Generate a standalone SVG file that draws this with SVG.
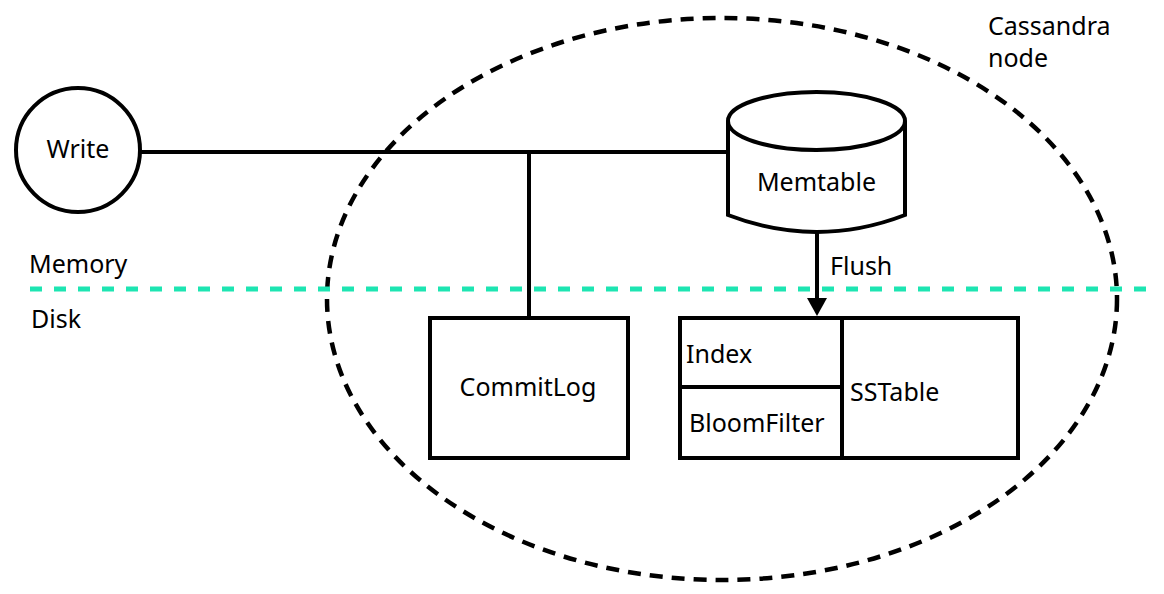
<svg xmlns="http://www.w3.org/2000/svg" width="1164" height="594" viewBox="0 0 1164 594">
<defs>
<style>
.t{font-family:"Noto Sans","Open Sans",sans-serif;font-size:25px;fill:#000}
.s{fill:#fff;stroke:#000;stroke-width:4}
.c{fill:none;stroke:#000;stroke-width:4}
</style>
</defs>
<rect width="1164" height="594" fill="#fff"/>
<g id="cassandra-node">
<ellipse cx="722" cy="299" rx="395" ry="281" fill="none" stroke="#000" stroke-width="4.5" stroke-dasharray="13 9"/>
<text class="t" x="988" y="35">Cassandra</text>
<text class="t" x="988" y="67">node</text>
</g>
<g id="memory-disk">
<line x1="30" y1="289" x2="1150" y2="289" stroke="#1de5b2" stroke-width="5" stroke-dasharray="12 12"/>
<text class="t" x="29" y="273">Memory</text>
<text class="t" x="31" y="328">Disk</text>
</g>
<g id="connectors">
<polyline class="c" points="140,152 728,152"/>
<line class="c" x1="529" y1="152" x2="529" y2="318"/>
<line class="c" x1="817" y1="232" x2="817" y2="300"/>
<path d="M807,298 L827,298 L817,316 Z" fill="#000"/>
<text class="t" x="830" y="275">Flush</text>
</g>
<g id="write">
<circle class="s" cx="78" cy="150" r="62"/>
<text class="t" x="78" y="158" text-anchor="middle">Write</text>
</g>
<g id="memtable">
<path class="s" d="M728,121 L728,215 Q816.5,249 905,215 L905,121"/>
<ellipse class="s" cx="816.5" cy="121" rx="88.5" ry="29"/>
<text class="t" x="816.5" y="191" text-anchor="middle">Memtable</text>
</g>
<g id="commitlog">
<rect class="s" x="430" y="318" width="198" height="140"/>
<text class="t" x="528" y="396" text-anchor="middle">CommitLog</text>
</g>
<g id="sstable">
<rect class="s" x="680" y="318" width="338" height="140"/>
<line class="c" x1="842" y1="318" x2="842" y2="458"/>
<line class="c" x1="680" y1="387" x2="842" y2="387"/>
<text class="t" x="686" y="363">Index</text>
<text class="t" x="689" y="432">BloomFilter</text>
<text class="t" x="850" y="401">SSTable</text>
</g>
</svg>
